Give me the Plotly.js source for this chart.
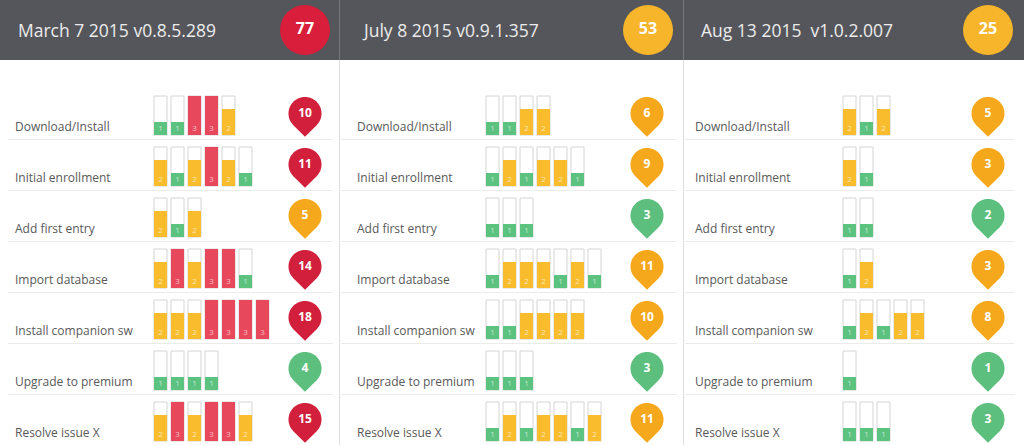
<!DOCTYPE html>
<html><head><meta charset="utf-8">
<script src="https://cdn.plot.ly/plotly-3.0.1.min.js"></script>
<style>html,body{margin:0;padding:0;background:#fff;overflow:hidden}#chart{width:1024px;height:445px}</style>
</head><body><div id="chart"></div>
<script>
// ---------- data ----------
const panelTitles = ["March 7 2015 v0.8.5.289", "July 8 2015 v0.9.1.357", "Aug 13 2015  v1.0.2.007"];
const steps = ["Download/Install", "Initial enrollment", "Add first entry", "Import database",
               "Install companion sw", "Upgrade to premium", "Resolve issue X"];
// severity of each issue per step (1 = low, 2 = medium, 3 = high)
const marchScores = [[1,1,3,3,2],[2,1,2,3,2,1],[2,1,2],[2,3,2,3,3,1],[2,2,2,3,3,3,3],[1,1,1,1],[2,3,2,3,3,2]];
const julyScores  = [[1,1,2,2],[1,2,1,2,2,1],[1,1,1],[1,2,2,2,1,2,1],[1,1,2,2,2,2],[1,1,1],[1,2,1,2,2,1,2]];
const augScores   = [[2,1,2],[2,1],[1,1],[1,2],[1,2,1,2,2],[1],[1,1,1]];
const panels = [marchScores, julyScores, augScores];

// ---------- layout constants ----------
const W = 1024, H = 445, headerH = 60;
const panelRight = [333, 677, 1014];
const lineLeft = [8, 341, 685];
const labelX = [13, 355, 693];
const barStartX = [160.5, 492.5, 849.5];
const pinX = [305, 647, 988];
const headTextX = [16, 360, 699];
const headCircleX = [305, 648, 988];
const rowPitch = 51, boxBottom0 = 135, unitH = 13, maxSev = 3, barPitch = 17, barW = 13;
const pinCy0 = 113.5, pinR = 16.5, labelY0 = 126;
const barColors = {1: '#5BC27F', 2: '#F9BC2C', 3: '#E8485C'};
const pinColors = {1: '#5CBF7E', 2: '#F5A81C', 3: '#D21F3C'};
const headColors = {1: '#5CBF7E', 2: '#F7B52B', 3: '#D81E3A'};
const FONT = 'Open Sans, Lato, sans-serif';

const sum = a => a.reduce((s, v) => s + v, 0);

const shapes = [];
const annotations = [];
const traces = [];

// header background
shapes.push({type: 'rect', layer: 'below', xref: 'x', yref: 'y', x0: 0, x1: W, y0: 0, y1: headerH,
             fillcolor: '#55565B', line: {width: 0}});
// vertical separators
[339.5, 683.5].forEach(x => {
  shapes.push({type: 'line', layer: 'below', x0: x, x1: x, y0: 0, y1: headerH, line: {color: '#76777C', width: 1}});
  shapes.push({type: 'line', layer: 'below', x0: x, x1: x, y0: headerH, y1: H, line: {color: '#DEDEDE', width: 1}});
});

function pinPath(cx, cy, r) {
  let p = `M ${cx} ${cy + r * Math.SQRT2}`;
  for (let a = 135; a <= 405; a += 5) {
    const t = a * Math.PI / 180;
    p += ` L ${(cx + r * Math.cos(t)).toFixed(2)} ${(cy + r * Math.sin(t)).toFixed(2)}`;
  }
  return p + ' Z';
}

const boxX = [], boxBase = [], boxY = [];
const fillX = [], fillBase = [], fillY = [], fillCol = [];
const numX = [], numY = [], numT = [];
const pinTX = [], pinTY = [], pinTT = [];
const headX = [], headY = [], headT = [], headC = [];

panels.forEach((rows, p) => {
  // header
  annotations.push({x: headTextX[p], y: 30, xanchor: 'left', yanchor: 'middle', showarrow: false,
                    text: panelTitles[p].replace(/  /g, ' &nbsp;'), font: {family: FONT, size: 17.5, color: '#ECECEC'}});
  const total = sum(rows.map(sum));
  const panelMax = Math.max(...rows.map(r => Math.max(...r)));
  headX.push(headCircleX[p]); headY.push(30); headT.push(String(total)); headC.push(headColors[panelMax]);

  rows.forEach((vals, i) => {
    const bottom = boxBottom0 + i * rowPitch;
    // row label
    annotations.push({x: labelX[p], y: labelY0 + i * rowPitch, xanchor: 'left', yanchor: 'middle', showarrow: false,
                      text: steps[i], font: {family: FONT, size: 12, color: '#595959'}});
    // row separator
    if (i < rows.length - 1) {
      shapes.push({type: 'line', layer: 'below', x0: lineLeft[p], x1: panelRight[p],
                   y0: bottom + 4.5, y1: bottom + 4.5, line: {color: '#EBEBEB', width: 1}});
    }
    vals.forEach((v, j) => {
      const cx = barStartX[p] + j * barPitch;
      boxX.push(cx); boxBase.push(bottom - maxSev * unitH); boxY.push(maxSev * unitH);
      fillX.push(cx); fillBase.push(bottom - v * unitH); fillY.push(v * unitH); fillCol.push(barColors[v]);
      numX.push(cx); numY.push(bottom - 6.5); numT.push(String(v));
    });
    // pin
    const cy = pinCy0 + i * rowPitch;
    const worst = Math.max(...vals);
    shapes.push({type: 'path', layer: 'below', path: pinPath(pinX[p], cy, pinR),
                 fillcolor: pinColors[worst], line: {width: 0}});
    pinTX.push(pinX[p]); pinTY.push(cy + 0.5); pinTT.push(String(sum(vals)));
  });
});

traces.push({type: 'bar', x: boxX, y: boxY, base: boxBase, width: barW, hoverinfo: 'skip',
             marker: {color: '#FFFFFF', line: {color: '#D4D4D4', width: 1}}});
traces.push({type: 'bar', x: fillX, y: fillY, base: fillBase, width: barW, hoverinfo: 'skip',
             marker: {color: fillCol, line: {width: 0}}});
traces.push({type: 'scatter', mode: 'text', x: numX, y: numY, text: numT, hoverinfo: 'skip',
             textfont: {family: FONT, size: 8, color: 'rgba(255,255,255,0.65)'}});
traces.push({type: 'scatter', mode: 'text', x: pinTX, y: pinTY, text: pinTT, hoverinfo: 'skip',
             texttemplate: '<b>%{text}</b>', textfont: {family: FONT, size: 12, color: '#FFFFFF'}});
traces.push({type: 'scatter', mode: 'markers+text', x: headX, y: headY, text: headT, hoverinfo: 'skip',
             texttemplate: '<b>%{text}</b>', textposition: 'middle center',
             marker: {size: 50, color: headC, line: {width: 0}},
             textfont: {family: FONT, size: 16, color: '#FFFFFF'}});

const layout = {
  width: W, height: H, margin: {l: 0, r: 0, t: 0, b: 0, pad: 0},
  paper_bgcolor: '#FFFFFF', plot_bgcolor: '#FFFFFF', showlegend: false,
  barmode: 'overlay', bargap: 0,
  xaxis: {range: [0, W], visible: false, fixedrange: true},
  yaxis: {range: [H, 0], visible: false, fixedrange: true},
  shapes: shapes, annotations: annotations
};
Plotly.newPlot('chart', traces, layout, {displayModeBar: false, staticPlot: true});
</script>
</body></html>
